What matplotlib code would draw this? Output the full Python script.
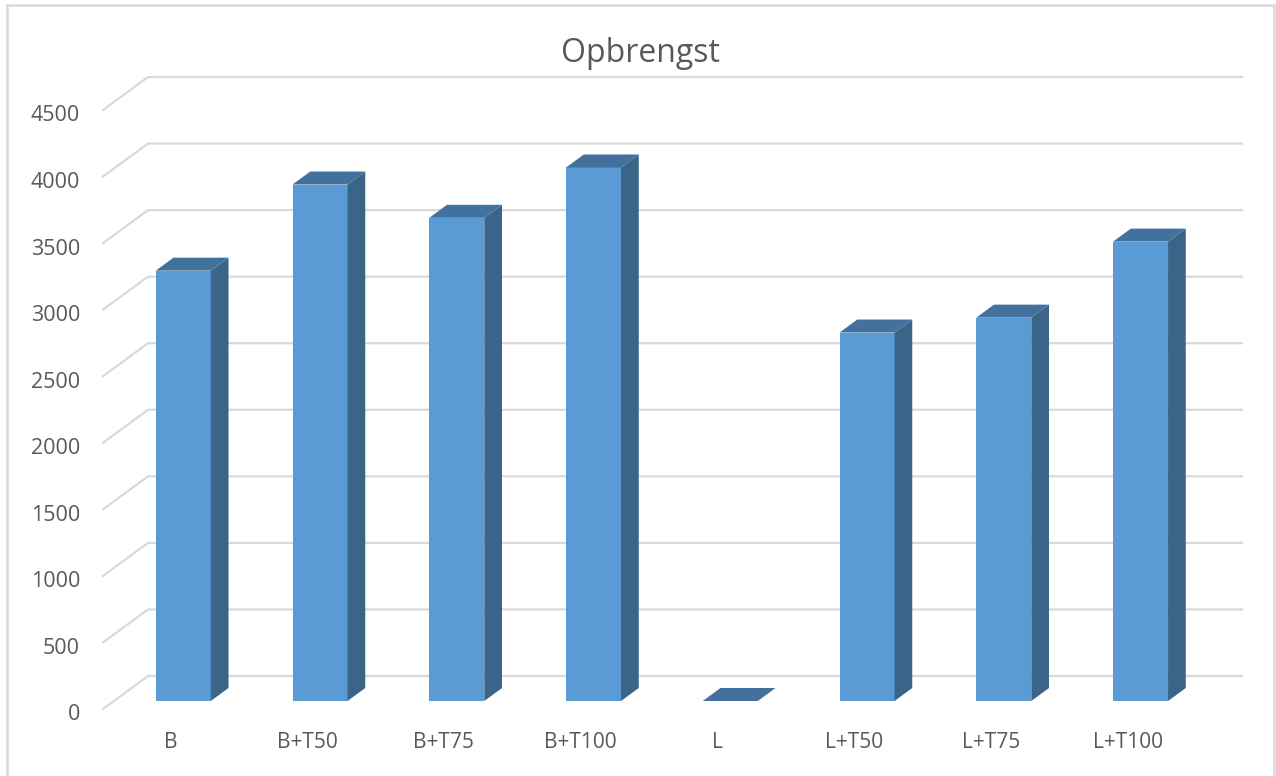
import matplotlib
matplotlib.use('Agg')
import matplotlib.pyplot as plt
from matplotlib.patches import Polygon, Rectangle
from matplotlib.transforms import ScaledTranslation

categories = ['B', 'B+T50', 'B+T75', 'B+T100', 'L', 'L+T50', 'L+T75', 'L+T100']
opbrengst = [3233, 3880, 3630, 4008, 0, 2768, 2880, 3451]
y_ticks = [0, 500, 1000, 1500, 2000, 2500, 3000, 3500, 4000, 4500]

W, H = 1276, 776
TEXT = '#595959'
GRID = '#d9d9d9'
FRONT = '#5b9bd5'
SIDE = '#3a6488'
TOP = '#41719c'

plt.rcParams['font.family'] = ['Open Sans', 'DejaVu Sans']

fig = plt.figure(figsize=(W / 100, H / 100), dpi=100)
fig.patches.append(Rectangle((7 / W, -0.05), 1267 / W, 1.05 - 5 / H, transform=fig.transFigure,
                             facecolor='white', edgecolor=GRID, linewidth=1.8, zorder=-1))

# axes = front plane of the fake 3d box
ax = fig.add_axes([103 / W, 1 - 709 / H, 1094 / W, 599 / H])
ax.patch.set_visible(False)
ax.set_xlim(-0.5, 7.5)
ax.set_ylim(0, 4500)

# oblique offset for the full floor depth, in data units
px_x = 1094 / 8
px_y = 599 / 4500
depth_x = 45 / px_x
depth_y = 33 / px_y


def shift(x, y, d):
    return x + d * depth_x, y + d * depth_y


for t in y_ticks:
    bx, by = shift(-0.5, t, 1)
    ex, ey = shift(7.5, t, 1)
    ax.plot([-0.5, bx, ex], [t, by, ey], color=GRID, linewidth=1.6, clip_on=False, zorder=1,
            solid_joinstyle='miter')

bar_w = 55 / px_x
d_front = 8 / 33
d_back = 21 / 33
nudge = 1 / px_x  # bars sit 1px further right than the slot centre

for i, v in enumerate(opbrengst):
    l = i - bar_w / 2 + nudge
    r = i + bar_w / 2 + nudge
    a = shift(l, 0, d_front)
    b = shift(r, 0, d_front)
    c = shift(r, v, d_front)
    d = shift(l, v, d_front)
    c2 = shift(r, v, d_back)
    d2 = shift(l, v, d_back)
    b2 = shift(r, 0, d_back)
    if v > 0:
        ax.add_patch(Polygon([a, b, c, d], facecolor=FRONT, edgecolor='none', clip_on=False, zorder=3))
        ax.add_patch(Polygon([b, b2, c2, c], facecolor=SIDE, edgecolor='none', clip_on=False, zorder=3))
    ax.add_patch(Polygon([d, c, c2, d2], facecolor=TOP, edgecolor='none', clip_on=False, zorder=3))

ax.set_xticks(range(len(categories)))
ax.set_xticklabels(categories)
ax.set_yticks(y_ticks)
ax.tick_params(axis='both', length=0, labelcolor=TEXT)
ax.tick_params(axis='x', labelsize=15, pad=16.5)
ax.tick_params(axis='y', labelsize=15.5, pad=16.5)
for s in ax.spines.values():
    s.set_visible(False)

# labels sit a little off their ticks in the original
for lab in ax.get_yticklabels():
    lab.set_transform(lab.get_transform() + ScaledTranslation(0, -3.5 / 100, fig.dpi_scale_trans))
for lab in ax.get_xticklabels():
    lab.set_transform(lab.get_transform() + ScaledTranslation(-1 / 100, 0, fig.dpi_scale_trans))

fig.text(640 / W, 1 - 53 / H, 'Opbrengst', ha='center', va='center', fontsize=23, color=TEXT)

fig.savefig('out.png', dpi=100)
